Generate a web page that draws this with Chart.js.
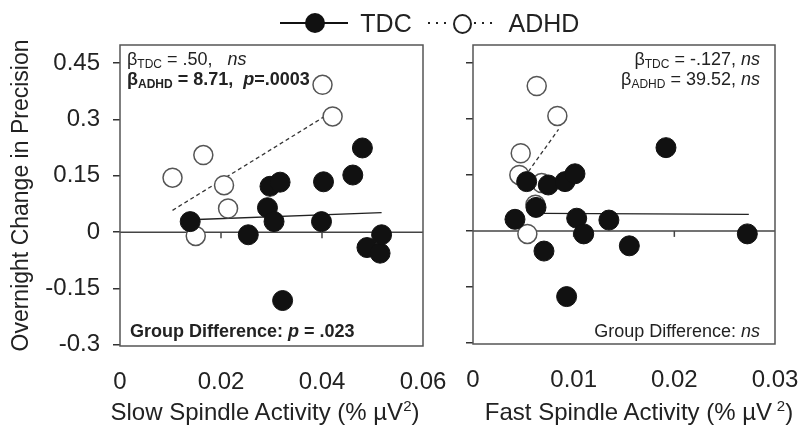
<!DOCTYPE html>
<html>
<head>
<meta charset="utf-8">
<script src="https://cdn.jsdelivr.net/npm/chart.js@4.4.1/dist/chart.umd.min.js"></script>
<style>
  body { margin: 0; background: #fff; }
  #wrap { position: relative; width: 801px; height: 438px; overflow: hidden;
          font-family: Arial, "Liberation Sans", sans-serif; color: #222; }
  canvas { position: absolute; top: 0; }
  .t { position: absolute; white-space: nowrap; line-height: 20px; font-size: 18px; }
  .t sub { font-size: 12px; vertical-align: -3px; line-height: 0; }
  .ttl { position: absolute; white-space: nowrap; font-size: 24px; line-height: 28px;
         transform: translateX(-50%); }
  .ttl sup { font-size: 15px; vertical-align: 9px; line-height: 0; }
  .leg { position: absolute; }
</style>
</head>
<body>
<div id="wrap">
  <canvas id="slow" width="480" height="438" style="left:0"></canvas>
  <canvas id="fast" width="440" height="438" style="left:420px"></canvas>

  <!-- legend -->
  <div class="leg" style="left:280px; top:22px; width:68px; height:2px; background:#111"></div>
  <div class="leg" style="left:305px; top:13px; width:20px; height:20px; border-radius:50%; background:#111"></div>
  <div class="leg ttl" style="left:386px; top:9px; font-size:25px">TDC</div>
  <div class="leg" style="left:428px; top:22px; width:24px; height:2px; background:repeating-linear-gradient(90deg,#222 0 2px,transparent 2px 8px)"></div>
  <div class="leg" style="left:453px; top:14px; width:15px; height:16px; border-radius:50%; border:2px solid #222"></div>
  <div class="leg" style="left:474px; top:22px; width:24px; height:2px; background:repeating-linear-gradient(90deg,#222 0 2px,transparent 2px 8px)"></div>
  <div class="leg ttl" style="left:544px; top:9px; font-size:25px">ADHD</div>

  <!-- annotations -->
  <div class="t" style="left:127px; top:49px">&beta;<sub>TDC</sub> = .50,&nbsp;&nbsp;&nbsp;<i>ns</i></div>
  <div class="t" style="left:127px; top:69px; font-weight:bold">&beta;<sub>ADHD</sub> = 8.71,&nbsp; <i>p</i>=.0003</div>
  <div class="t" style="left:130px; top:321px; font-weight:bold">Group Difference: <i>p</i> = .023</div>
  <div class="t" style="right:41px; top:49px; text-align:right">&beta;<sub>TDC</sub> = -.127, <i>ns</i></div>
  <div class="t" style="right:41px; top:69px; text-align:right">&beta;<sub>ADHD</sub> = 39.52, <i>ns</i></div>
  <div class="t" style="right:41px; top:321px; text-align:right">Group Difference: <i>ns</i></div>

  <!-- x axis titles -->
  <div class="ttl" style="left:265px; top:398px">Slow Spindle Activity (% &micro;V<sup>2</sup>)</div>
  <div class="ttl" style="left:639px; top:398px">Fast Spindle Activity (% &micro;V&thinsp;<sup>2</sup>)</div>
</div>

<script>
// y axis (shared)
const yMin = -0.303;
const yMax = 0.498;
const yTicks = [-0.3, -0.15, 0, 0.15, 0.3, 0.45];
const yTickLabels = ['-0.3', '-0.15', '0', '0.15', '0.3', '0.45'];

// slow spindle panel
const slowTicks = [0, 0.02, 0.04, 0.06];
const slowTickLabels = ['0', '0.02', '0.04', '0.06'];
const tdcSlowX = [0.0139, 0.0254, 0.0292, 0.0297, 0.0317, 0.0305, 0.0322, 0.0403, 0.0399, 0.0461, 0.0480, 0.0489, 0.0515, 0.0518];
const tdcSlowY = [0.028, -0.007, 0.065, 0.122, 0.133, 0.028, -0.182, 0.134, 0.028, 0.152, 0.224, -0.041, -0.056, -0.007];
const adhdSlowX = [0.0104, 0.0165, 0.0150, 0.0206, 0.0214, 0.0401, 0.0421];
const adhdSlowY = [0.145, 0.205, -0.010, 0.125, 0.063, 0.392, 0.308];
const tdcSlowFitX = [0.0139, 0.0518];
const tdcSlowFitY = [0.033, 0.052];
const adhdSlowFitX = [0.0104, 0.0421];
const adhdSlowFitY = [0.058, 0.321];

// fast spindle panel
const fastTicks = [0, 0.01, 0.02, 0.03];
const fastTickLabels = ['0', '0.01', '0.02', '0.03'];
const tdcFastX = [0.00417, 0.00533, 0.00626, 0.00705, 0.00748, 0.00914, 0.01013, 0.0103, 0.0110, 0.0093, 0.0135, 0.01553, 0.01917, 0.02725];
const tdcFastY = [0.031, 0.132, 0.063, -0.054, 0.123, 0.132, 0.153, 0.034, -0.008, -0.176, 0.029, -0.040, 0.223, -0.008];
const adhdFastX = [0.00633, 0.00838, 0.00474, 0.0046, 0.0054, 0.00682, 0.0062];
const adhdFastY = [0.388, 0.308, 0.208, 0.150, -0.008, 0.128, 0.070];
const tdcFastFitX = [0.0070, 0.0274];
const tdcFastFitY = [0.047, 0.044];
const adhdFastFitX = [0.0055, 0.0085];
const adhdFastFitY = [0.159, 0.272];

const FONT = 'Arial, "Liberation Sans", sans-serif';

function pts(xs, ys) {
    return xs.map((x, i) => ({ x: x, y: ys[i] }));
}

// box around the plot area, small ticks on the zero line
const framePlugin = {
    id: 'frame',
    beforeDatasetsDraw(chart) {
        const { ctx } = chart;
        const xs = chart.scales.x, ys = chart.scales.y;
        const y0 = ys.getPixelForValue(0);
        ctx.save();
        ctx.strokeStyle = '#444';
        ctx.lineWidth = 1.5;
        xs.ticks.forEach(t => {
            if (t.value <= xs.min || t.value >= xs.max) return;
            const px = xs.getPixelForValue(t.value);
            ctx.beginPath();
            ctx.moveTo(px, y0);
            ctx.lineTo(px, y0 + 6);
            ctx.stroke();
        });
        ctx.restore();
    },
    afterDraw(chart) {
        const { ctx, chartArea: a } = chart;
        ctx.save();
        ctx.strokeStyle = '#555';
        ctx.lineWidth = 1.5;
        ctx.strokeRect(a.left, a.top, a.right - a.left, a.bottom - a.top);
        ctx.restore();
    }
};

function makePanel(id, cfg) {
    const ctx = document.getElementById(id).getContext('2d');
    return new Chart(ctx, {
        type: 'scatter',
        data: {
            datasets: [
                {
                    label: 'TDC',
                    data: pts(cfg.tdcX, cfg.tdcY),
                    backgroundColor: '#111',
                    borderColor: '#111',
                    borderWidth: 1,
                    pointRadius: 10,
                    order: 1
                },
                {
                    label: 'ADHD',
                    data: pts(cfg.adhdX, cfg.adhdY),
                    backgroundColor: '#fff',
                    borderColor: '#555',
                    borderWidth: 1.5,
                    pointRadius: 9.5,
                    order: 2
                },
                {
                    label: 'TDC fit',
                    data: pts(cfg.tdcFitX, cfg.tdcFitY),
                    showLine: true,
                    borderColor: '#222',
                    borderWidth: 1.3,
                    pointRadius: 0,
                    order: 3
                },
                {
                    label: 'ADHD fit',
                    data: pts(cfg.adhdFitX, cfg.adhdFitY),
                    showLine: true,
                    borderColor: '#333',
                    borderWidth: 1.3,
                    borderDash: [4, 3],
                    pointRadius: 0,
                    order: 3
                },
                {
                    label: 'zero',
                    data: pts([cfg.xTicks[0], cfg.xTicks[cfg.xTicks.length - 1]], [0, 0]),
                    showLine: true,
                    borderColor: '#444',
                    borderWidth: 1.5,
                    pointRadius: 0,
                    order: 4
                }
            ]
        },
        options: {
            responsive: false,
            animation: false,
            layout: { padding: { left: 0, top: 45, right: cfg.padRight, bottom: 0 } },
            plugins: {
                legend: { display: false },
                tooltip: { enabled: false }
            },
            scales: {
                x: {
                    type: 'linear',
                    min: cfg.xTicks[0],
                    max: cfg.xTicks[cfg.xTicks.length - 1],
                    afterBuildTicks: (scale) => { scale.ticks = cfg.xTicks.map(v => ({ value: v })); },
                    afterFit: (scale) => { scale.height = cfg.xHeight; },
                    grid: { display: false, drawTicks: false },
                    border: { display: false },
                    ticks: {
                        padding: 22,
                        maxRotation: 0,
                        autoSkip: false,
                        color: '#222',
                        font: { family: FONT, size: 24 },
                        callback: (v) => cfg.xTickLabels[cfg.xTicks.indexOf(v)]
                    }
                },
                y: {
                    min: yMin,
                    max: yMax,
                    afterBuildTicks: (scale) => { scale.ticks = yTicks.map(v => ({ value: v })); },
                    afterFit: (scale) => { scale.width = cfg.yWidth; },
                    grid: { drawOnChartArea: false, drawTicks: true, tickLength: 7, color: '#333', lineWidth: 1.5 },
                    border: { display: false },
                    ticks: {
                        padding: 13,
                        autoSkip: false,
                        color: '#222',
                        font: { family: FONT, size: 24 },
                        callback: (v) => cfg.showY ? yTickLabels[yTicks.indexOf(v)] : ''
                    },
                    title: {
                        display: cfg.showY,
                        text: 'Overnight Change in Precision',
                        color: '#222',
                        font: { family: FONT, size: 23 },
                        padding: { top: 8, bottom: 0 }
                    }
                }
            }
        },
        plugins: [framePlugin]
    });
}

makePanel('slow', {
    tdcX: tdcSlowX, tdcY: tdcSlowY,
    adhdX: adhdSlowX, adhdY: adhdSlowY,
    tdcFitX: tdcSlowFitX, tdcFitY: tdcSlowFitY,
    adhdFitX: adhdSlowFitX, adhdFitY: adhdSlowFitY,
    xTicks: slowTicks, xTickLabels: slowTickLabels,
    padRight: 57, yWidth: 120, xHeight: 92, showY: true
});

makePanel('fast', {
    tdcX: tdcFastX, tdcY: tdcFastY,
    adhdX: adhdFastX, adhdY: adhdFastY,
    tdcFitX: tdcFastFitX, tdcFitY: tdcFastFitY,
    adhdFitX: adhdFastFitX, adhdFitY: adhdFastFitY,
    xTicks: fastTicks, xTickLabels: fastTickLabels,
    padRight: 85, yWidth: 53, xHeight: 94, showY: false
});
</script>
</body>
</html>
